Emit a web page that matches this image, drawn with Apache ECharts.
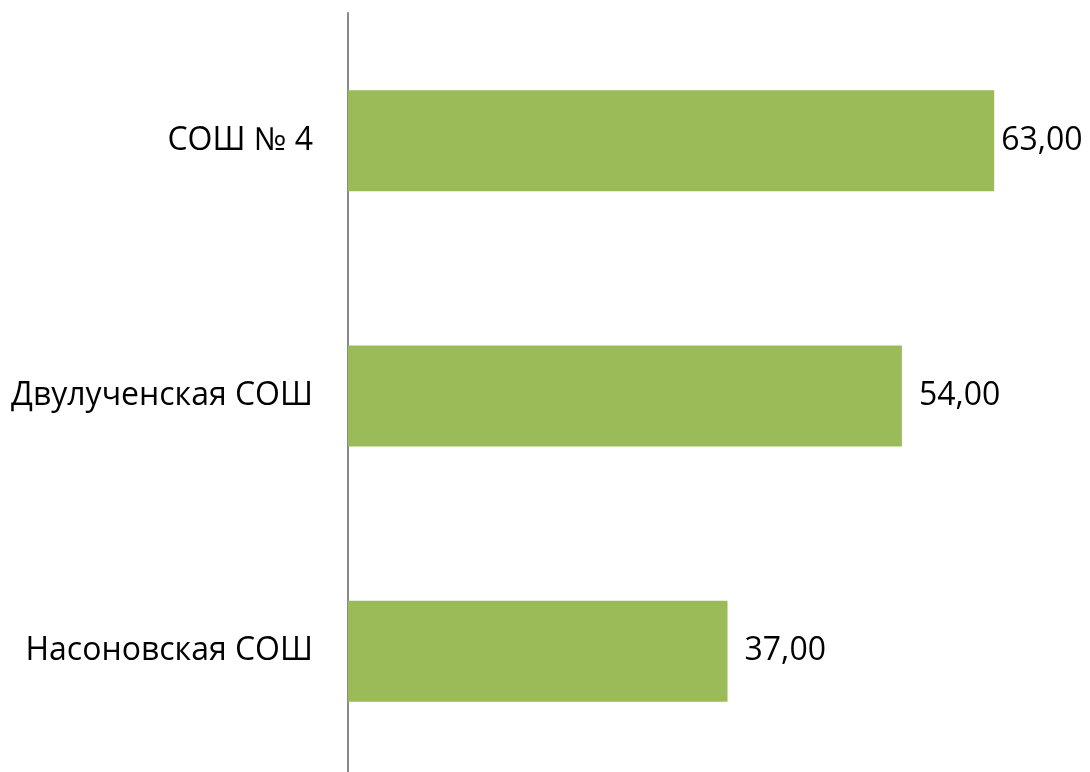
<!DOCTYPE html>
<html>
<head>
<meta charset="utf-8">
<script src="https://cdn.jsdelivr.net/npm/echarts@6/dist/echarts.min.js"></script>
<style>
html,body{margin:0;padding:0;background:#fff;}
#chart{width:1090px;height:772px;}
</style>
</head>
<body>
<div id="chart"></div>
<script>
const categories = ['Насоновская СОШ', 'Двулученская СОШ', 'СОШ № 4'];
const values = [37, 54, 63];

// the longest bar's label sits closer to its bar so it fits inside the frame
const seriesData = values.map((v, i) =>
  i === values.length - 1 ? {value: v, label: {distance: 7}} : v);

const chart = echarts.init(document.getElementById('chart'), null, {renderer: 'canvas'});
chart.setOption({
  animation: false,
  backgroundColor: '#ffffff',
  grid: {left: 348, top: 13, right: 24, bottom: -7, containLabel: false, outerBoundsMode: 'none'},
  xAxis: {
    type: 'value', min: 0, max: 70,
    show: false
  },
  yAxis: {
    type: 'category',
    data: categories,
    axisLine: {show: true, lineStyle: {color: '#898989', width: 2}},
    axisTick: {show: false},
    splitLine: {show: false},
    axisLabel: {
      color: '#000000',
      fontFamily: 'Open Sans',
      fontSize: 32,
      margin: 35
    }
  },
  series: [{
    type: 'bar',
    data: seriesData,
    barWidth: 101,
    itemStyle: {color: '#9BBB59'},
    label: {
      show: true,
      position: 'right',
      distance: 17,
      color: '#000000',
      fontFamily: 'Open Sans',
      fontSize: 32,
      formatter: p => p.value.toFixed(2).replace('.', ',')
    }
  }]
});
</script>
</body>
</html>
